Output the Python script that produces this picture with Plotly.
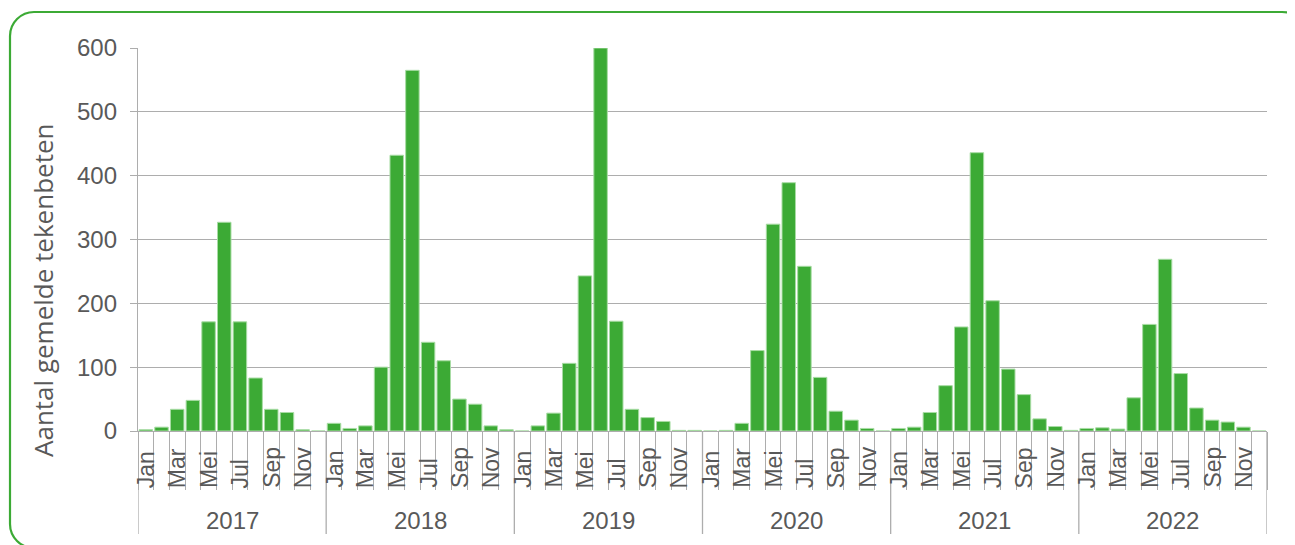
import plotly.graph_objects as go

years = ["2017", "2018", "2019", "2020", "2021", "2022"]
months = ["Jan", "Feb", "Mar", "Apr", "Mei", "Jun", "Jul", "Aug", "Sep", "Okt", "Nov", "Dec"]
shown_months = ["Jan", "Mar", "Mei", "Jul", "Sep", "Nov"]

t2017 = [2, 6, 34, 48, 171, 327, 171, 83, 34, 29, 2, 0]
t2018 = [12, 4, 8, 100, 432, 565, 139, 110, 50, 42, 8, 2]
t2019 = [0, 8, 28, 106, 243, 600, 172, 34, 21, 15, 1, 1]
t2020 = [0, 1, 12, 126, 324, 389, 258, 84, 31, 17, 4, 0]
t2021 = [4, 6, 29, 71, 163, 436, 204, 97, 57, 19, 7, 1]
t2022 = [4, 5, 3, 52, 167, 269, 90, 36, 17, 14, 6, 0]
series = [t2017, t2018, t2019, t2020, t2021, t2022]

y_title = "Aantal gemelde tekenbeten"
y_ticks = [0, 100, 200, 300, 400, 500, 600]

# page geometry (pixels); the html body has an 8px margin
OFF = 8
PAGE_W, PAGE_H = 1295, 545
W, H = PAGE_W - OFF, PAGE_H - OFF
PL, PR, PT, PB = 138, 1267, 48, 431  # plot area in page pixels
L, T = PL - OFF, PT - OFF
R = W - (PR - OFF)
B = H - (PB - OFF)
PW, PH = PR - PL, PB - PT

def px_x(p):
    return (p - PL) / PW

def px_y(p):
    return (PB - p) / PH

values = [v for s in series for v in s]
xs = list(range(len(values)))
labels = [f"{m} {y}" for y in years for m in months]

TXT = "#595959"
GREEN = "#3caa35"
GRID = "#adadad"
FONT = "Liberation Sans, Arial"

fig = go.Figure()
fig.add_trace(go.Bar(
    x=xs, y=values, hovertext=labels,
    marker=dict(color=GREEN, line=dict(color="#a8dca4", width=1)),
    width=0.86,
))

annotations = []
shapes = []
n = len(months)
for yi, yr in enumerate(years):
    base = yi * n
    for mi, m in enumerate(months):
        if m in shown_months:
            annotations.append(dict(
                x=base + mi, y=px_y(490), xref="x", yref="paper",
                text=m, textangle=-90, showarrow=False,
                xanchor="center", yanchor="bottom",
                font=dict(family=FONT, size=23, color=TXT),
            ))
    annotations.append(dict(
        x=base + (n - 1) / 2, y=px_y(520), xref="x", yref="paper",
        text=yr, showarrow=False, xanchor="center", yanchor="middle",
        font=dict(family=FONT, size=24, color=TXT),
    ))
for k in range(len(years) + 1):
    shapes.append(dict(
        type="line", xref="x", yref="paper",
        x0=k * n - 0.5, x1=k * n - 0.5, y0=0, y1=px_y(534),
        line=dict(color=GRID, width=1.3),
    ))

annotations.append(dict(
    x=px_x(43), y=px_y(291), xref="paper", yref="paper",
    text=y_title, textangle=-90, showarrow=False,
    xanchor="center", yanchor="middle",
    font=dict(family="Open Sans", size=26, color=TXT),
))

# rounded green frame
x0, x1, y0, y1, r = 10, 1306, 12, 548, 24
k = 0.45
def P(a, b):
    return f"{px_x(a):.5f},{px_y(b):.5f}"
path = (
    f"M {P(x0 + r, y0)} L {P(x1 - r, y0)} "
    f"C {P(x1 - r * k, y0)} {P(x1, y0 + r * k)} {P(x1, y0 + r)} "
    f"L {P(x1, y1 - r)} "
    f"C {P(x1, y1 - r * k)} {P(x1 - r * k, y1)} {P(x1 - r, y1)} "
    f"L {P(x0 + r, y1)} "
    f"C {P(x0 + r * k, y1)} {P(x0, y1 - r * k)} {P(x0, y1 - r)} "
    f"L {P(x0, y0 + r)} "
    f"C {P(x0, y0 + r * k)} {P(x0 + r * k, y0)} {P(x0 + r, y0)} Z"
)
shapes.append(dict(type="path", xref="paper", yref="paper", path=path,
                   line=dict(color=GREEN, width=2.2), layer="above"))

fig.update_layout(
    width=W, height=H,
    margin=dict(l=L, r=R, t=T, b=B, pad=0),
    paper_bgcolor="white", plot_bgcolor="white",
    showlegend=False,
    annotations=annotations, shapes=shapes,
    xaxis=dict(
        range=[-0.5, len(values) - 0.5], showgrid=False, zeroline=False,
        showticklabels=False, ticks="",
        showline=True, linecolor=GRID, linewidth=1.3,
        minor=dict(tick0=-0.5, dtick=1, ticks="outside", ticklen=58,
                   tickcolor=GRID, tickwidth=1.3, showgrid=False),
    ),
    yaxis=dict(
        range=[0, 600], tickvals=y_ticks, showgrid=True, gridcolor=GRID, gridwidth=1.3,
        zeroline=False, showline=True, linecolor=GRID, linewidth=1.3,
        ticks="outside", ticklen=7, tickcolor=GRID, tickwidth=1.3,
        ticklabelstandoff=8,
        tickfont=dict(family=FONT, size=24, color=TXT),
    ),
)

fig.write_html("out.html")
